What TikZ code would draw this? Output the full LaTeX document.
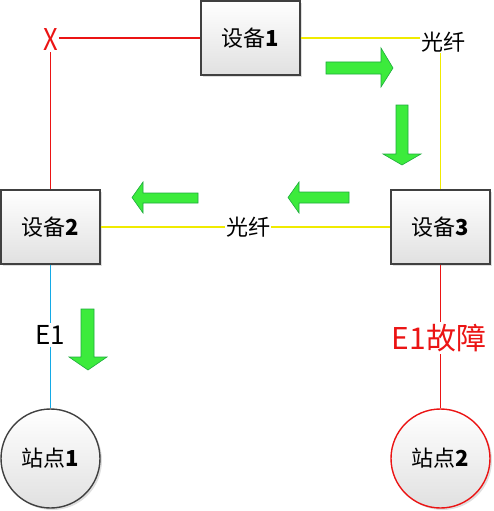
\documentclass[tikz,border=0pt]{standalone}
\usepackage{fontspec}
\setmainfont{Noto Sans CJK SC}
\usetikzlibrary{shadows}
\definecolor{boxline}{RGB}{64,64,64}
\definecolor{linkred}{RGB}{235,20,20}
\definecolor{fiber}{RGB}{240,235,0}
\definecolor{eline}{RGB}{20,170,230}
\definecolor{flowfill}{RGB}{60,235,60}
\definecolor{flowline}{RGB}{30,170,60}
\tikzset{
  device/.style={draw=boxline, line width=1.4pt, minimum width=99pt, minimum height=74pt,
    top color=white, bottom color=black!12, font=\fontsize{22}{24}\selectfont,
    drop shadow={opacity=0.25, shadow xshift=2pt, shadow yshift=-2pt}},
  station/.style={circle, line width=1.4pt, minimum size=99pt, inner sep=0pt,
    top color=white, bottom color=black!12, font=\fontsize{22}{24}\selectfont,
    drop shadow={opacity=0.25, shadow xshift=2pt, shadow yshift=-2pt}},
  lbl/.style={inner sep=1pt, font=\fontsize{22}{24}\selectfont},
  link/.style={line width=1.8pt},
  flow/.style={fill=flowfill, draw=flowline, line width=0.6pt, line join=miter},
}
\begin{document}
\begin{tikzpicture}[x=1pt, y=-1pt]
\useasboundingbox (0,0) rectangle (493,511);

% devices
\node[device] (d1) at (250.5,38) {设备\textbf{1}};
\node[device] (d2) at (50.5,227) {设备\textbf{2}};
\node[device] (d3) at (440.5,227) {设备\textbf{3}};

% stations
\node[station, draw=boxline] (s1) at (50.5,458.5) {站点\textbf{1}};
\node[station, draw=linkred] (s2) at (440.5,458.5) {站点\textbf{2}};

% labels
\node[inner sep=1pt, text=linkred, font=\fontsize{30}{32}\selectfont, xscale=0.85] (x) at (50.5,40) {X};
\node[lbl] (f1) at (443,42) {光纤};
\node[lbl] (f2) at (248,227) {光纤};
\node[inner sep=2pt, font=\fontsize{26}{28}\selectfont] (e1) at (50.5,335) {E1};
\node[inner sep=2pt, text=linkred, font=\fontsize{30}{32}\selectfont] (e2) at (439,338) {E1故障};

% links
\draw[link, linkred] (x.east |- d1.west) -- (d1.west);
\draw[link, linkred] (x.south) -- (d2.north -| x.south);
\draw[link, fiber] (d1.east) -- (f1.west |- d1.east);
\draw[link, fiber] (f1.south -| d3.north) -- (d3.north);
\draw[link, fiber] (d2.east) -- (f2.west);
\draw[link, fiber] (f2.east) -- (d3.west);
\draw[link, eline] (d2.south) -- (e1.north);
\draw[link, eline] (e1.south) -- (s1.north);
\draw[link, linkred] (d3.south -| s2.north) -- (e2.north -| s2.north);
\draw[link, linkred] (e2.south -| s2.north) -- (s2.north);

% traffic direction arrows
\draw[flow] (326,62) -- (381,62) -- (381,48) -- (393,68) -- (381,87) -- (381,74) -- (326,74) -- cycle;
\draw[flow] (396,105) -- (408,105) -- (408,154) -- (421,154) -- (402,165) -- (383,154) -- (396,154) -- cycle;
\draw[flow] (349,192) -- (299,192) -- (299,182) -- (288,197.5) -- (299,213) -- (299,203) -- (349,203) -- cycle;
\draw[flow] (198,193) -- (143,193) -- (143,182) -- (132,197.5) -- (143,213) -- (143,203) -- (198,203) -- cycle;
\draw[flow] (81,309) -- (94,309) -- (94,357) -- (107,357) -- (88,370) -- (69,357) -- (81,357) -- cycle;
\end{tikzpicture}
\end{document}
